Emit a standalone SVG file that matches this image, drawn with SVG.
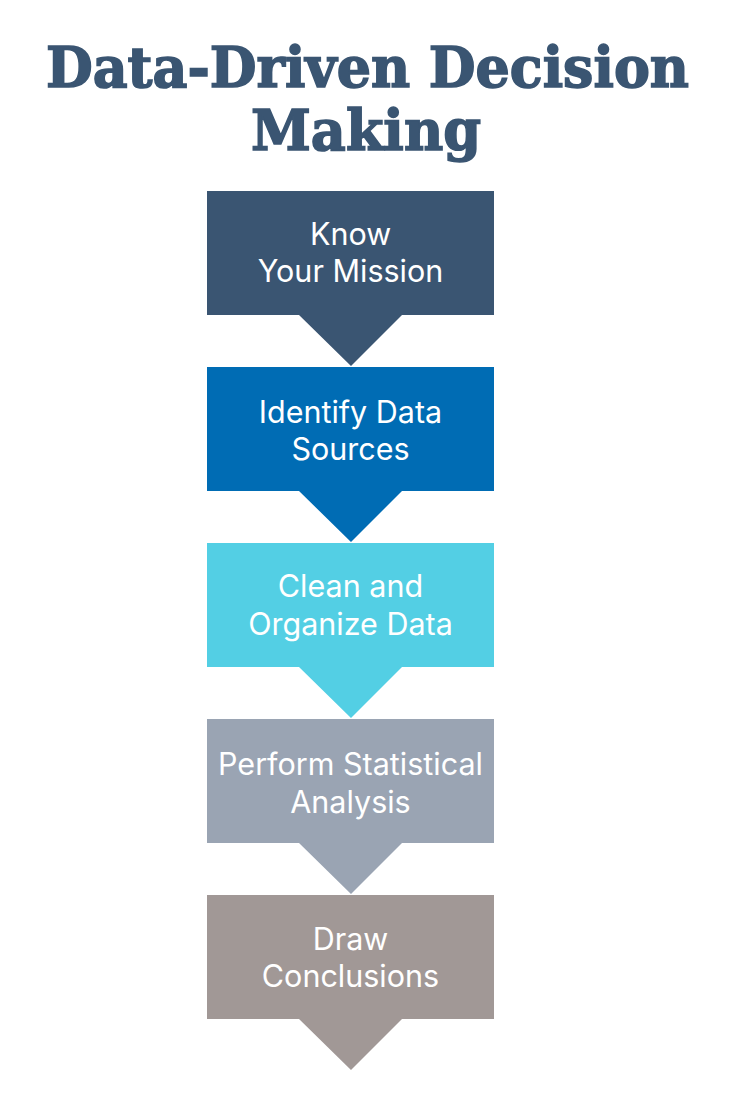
<svg xmlns="http://www.w3.org/2000/svg" width="735" height="1102" viewBox="0 0 735 1102">
<style>
.title{font-family:"DejaVu Serif",serif;font-weight:bold;font-size:56px;fill:#3a5572;stroke:#3a5572;stroke-width:1.6px;text-anchor:middle}
.lbl{font-family:Inter,"Noto Sans",sans-serif;font-size:30.5px;fill:#ffffff;text-anchor:middle}
</style>
<defs>
<path id="chev" d="M0,0 H287 V124 H195 L144,175 L92,124 H0 Z"/>
</defs>
<rect width="735" height="1102" fill="#ffffff"/>
<g id="title">
<text class="title" x="367.5" y="87" textLength="643" lengthAdjust="spacingAndGlyphs">Data-Driven Decision</text>
<text class="title" x="366" y="150" textLength="230" lengthAdjust="spacingAndGlyphs">Making</text>
</g>
<g id="connectors"></g>
<g id="step1">
<use href="#chev" x="207" y="191" fill="#3a5572"/>
<text class="lbl" x="350.5" y="245">Know</text>
<text class="lbl" x="350.5" y="282">Your Mission</text>
</g>
<g id="step2">
<use href="#chev" x="207" y="367" fill="#006cb4"/>
<text class="lbl" x="350.5" y="423">Identify Data</text>
<text class="lbl" x="350.5" y="460">Sources</text>
</g>
<g id="step3">
<use href="#chev" x="207" y="543" fill="#53cfe4"/>
<text class="lbl" x="350.5" y="597">Clean and</text>
<text class="lbl" x="350.5" y="635">Organize Data</text>
</g>
<g id="step4">
<use href="#chev" x="207" y="719" fill="#9aa4b3"/>
<text class="lbl" x="350.5" y="775">Perform Statistical</text>
<text class="lbl" x="350.5" y="813">Analysis</text>
</g>
<g id="step5">
<use href="#chev" x="207" y="895" fill="#a19896"/>
<text class="lbl" x="350.5" y="950">Draw</text>
<text class="lbl" x="350.5" y="987">Conclusions</text>
</g>
</svg>
